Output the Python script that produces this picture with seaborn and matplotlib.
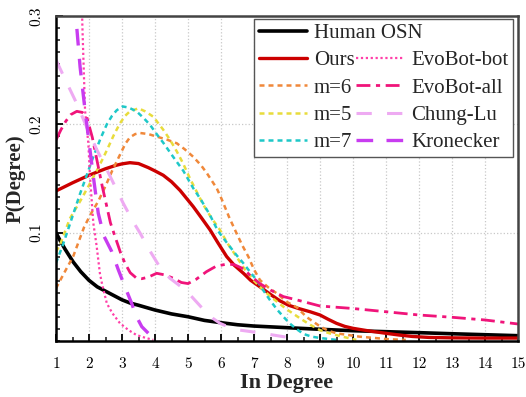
import numpy as np
import pandas as pd
import matplotlib
matplotlib.use("Agg")
import matplotlib.pyplot as plt
from matplotlib.lines import Line2D
from matplotlib.ticker import AutoMinorLocator, MultipleLocator
import seaborn as sns

# ---------------- data ----------------
human_x = [1, 1.12, 1.27, 1.52, 1.75, 2, 2.25, 2.5, 2.75, 3, 3.25, 3.5, 4, 4.5, 5, 5.5, 6, 6.5, 7,
           8, 9, 10, 11, 12, 13, 14, 15]
human_y = [0.100, 0.093, 0.085, 0.073, 0.064, 0.056, 0.050, 0.046, 0.042, 0.038, 0.035, 0.033,
           0.0286, 0.025, 0.0224, 0.019, 0.0169, 0.015, 0.0138, 0.0123, 0.0108, 0.0095, 0.0086,
           0.0077, 0.0067, 0.0058, 0.0049]

ours_x = [1, 1.5, 2, 2.5, 2.8, 3.0, 3.24, 3.5, 3.8, 4.0, 4.25, 4.5, 4.76, 5.0, 5.16, 5.4, 5.67,
          5.9, 6.17, 6.4, 6.68, 6.9, 7.18, 7.5, 7.79, 8.05, 8.35, 8.7, 9.0, 9.25, 9.5, 9.75, 10.0,
          10.5, 11.0, 11.4, 11.8, 12.3, 13, 14, 15]
ours_y = [0.1385, 0.146, 0.153, 0.159, 0.162, 0.1635, 0.1646, 0.1638, 0.160, 0.157, 0.153, 0.147,
          0.139, 0.130, 0.124, 0.114, 0.1025, 0.091, 0.078, 0.070, 0.0625, 0.056, 0.050, 0.043,
          0.037, 0.033, 0.030, 0.027, 0.024, 0.020, 0.0163, 0.0135, 0.0117, 0.0092, 0.0071,
          0.0055, 0.0042, 0.0033, 0.0029, 0.0027, 0.0027]

m6_x = [1, 1.25, 1.52, 1.85, 2.05, 2.28, 2.5, 2.7, 2.94, 3.1, 3.24, 3.4, 3.55, 3.8, 4.05, 4.35,
        4.66, 4.9, 5.16, 5.4, 5.57, 5.87, 6.02, 6.25, 6.47, 6.65, 6.83, 7.0, 7.18, 7.45, 7.69,
        8.0, 8.3, 8.6, 9.0, 9.25, 9.5, 10.2, 11.1, 11.6]
m6_y = [0.0486, 0.063, 0.078, 0.105, 0.117, 0.129, 0.143, 0.157, 0.172, 0.182, 0.188, 0.191,
        0.192, 0.191, 0.1887, 0.186, 0.1825, 0.177, 0.170, 0.162, 0.155, 0.141, 0.131, 0.114,
        0.0995, 0.088, 0.0778, 0.066, 0.0563, 0.049, 0.044, 0.036, 0.031, 0.022, 0.0135, 0.0095,
        0.0071, 0.004, 0.0016, 0.001]

m5_x = [1, 1.12, 1.42, 1.75, 2.03, 2.3, 2.54, 2.75, 2.94, 3.1, 3.24, 3.5, 3.7, 3.95, 4.1, 4.25,
        4.45, 4.66, 4.85, 5.06, 5.26, 5.46, 5.7, 5.97, 6.2, 6.47, 6.7, 6.98, 7.25, 7.5, 7.75, 8.0,
        8.2, 8.39, 8.7, 9.0, 9.3, 9.6, 10.1]
m5_y = [0.0825, 0.0886, 0.113, 0.130, 0.1455, 0.161, 0.176, 0.190, 0.201, 0.208, 0.212, 0.2148,
        0.212, 0.207, 0.201, 0.195, 0.186, 0.175, 0.164, 0.150, 0.138, 0.126, 0.114, 0.1025,
        0.090, 0.0778, 0.067, 0.0563, 0.048, 0.041, 0.035, 0.029, 0.025, 0.021, 0.015, 0.010,
        0.007, 0.0046, 0.001]

m7_x = [1, 1.2, 1.4, 1.73, 2.13, 2.35, 2.54, 2.7, 2.84, 3.02, 3.2, 3.44, 3.65, 3.85, 4.05, 4.25,
        4.55, 4.86, 5.16, 5.4, 5.67, 5.9, 6.17, 6.45, 6.68, 6.9, 7.08, 7.3, 7.48, 7.7, 7.89, 8.09,
        8.29, 8.5, 8.75, 9.0, 9.5]
m7_y = [0.072, 0.088, 0.106, 0.136, 0.170, 0.187, 0.200, 0.208, 0.213, 0.2165, 0.2155, 0.212,
        0.206, 0.1995, 0.191, 0.183, 0.170, 0.157, 0.141, 0.130, 0.116, 0.102, 0.091, 0.080,
        0.0717, 0.063, 0.0563, 0.046, 0.0379, 0.029, 0.0224, 0.016, 0.0110, 0.0065, 0.004,
        0.0028, 0.001]

bot_x = [1.76, 1.8, 1.88, 1.98, 2.03, 2.13, 2.23, 2.33, 2.4, 2.54, 2.7, 2.94, 3.2, 3.44, 3.7, 3.95]
bot_y = [0.34, 0.29, 0.213, 0.1825, 0.152, 0.109, 0.088, 0.0625, 0.052, 0.0348, 0.026, 0.0163,
         0.010, 0.0055, 0.003, 0.001]

all_x = [1, 1.15, 1.3, 1.45, 1.63, 1.8, 1.93, 2.1, 2.28, 2.4, 2.54, 2.65, 2.79, 2.95, 3.09, 3.25,
         3.44, 3.6, 3.8, 4.05, 4.3, 4.55, 4.8, 5.0, 5.25, 5.56, 5.85, 6.17, 6.4, 6.68, 6.9, 7.18,
         7.5, 7.89, 8.29, 9, 10, 11, 12, 13, 14, 15]
all_y = [0.1856, 0.195, 0.203, 0.209, 0.212, 0.211, 0.207, 0.188, 0.161, 0.143, 0.124, 0.109,
         0.0963, 0.082, 0.0717, 0.063, 0.058, 0.0575, 0.059, 0.0625, 0.061, 0.058, 0.054, 0.053,
         0.057, 0.064, 0.069, 0.071, 0.0705, 0.0666, 0.060, 0.053, 0.047, 0.041, 0.038, 0.0323,
         0.030, 0.027, 0.024, 0.0219, 0.0194, 0.0157]

chung_x = [1, 1.3, 1.6, 1.88, 2.23, 2.64, 3.04, 3.34, 3.55, 3.85, 4.15, 4.45, 4.75, 4.96, 5.2,
           5.5, 5.75, 5.97, 6.3, 6.58, 7.18, 7.89, 8.4]
chung_y = [0.2595, 0.240, 0.221, 0.201, 0.177, 0.152, 0.127, 0.110, 0.0995, 0.083, 0.068, 0.058,
           0.051, 0.046, 0.038, 0.028, 0.021, 0.0163, 0.012, 0.0100, 0.0075, 0.004, 0.002]

kron_x = [1.5, 1.6, 1.73, 1.88, 1.98, 2.13, 2.28, 2.45, 2.69, 2.89, 3.09, 3.29, 3.44, 3.6, 3.95]
kron_y = [0.34, 0.30, 0.253, 0.213, 0.1887, 0.152, 0.118, 0.097, 0.0825, 0.0656, 0.050, 0.035,
          0.0224, 0.0132, 0.0025]

names = ["Human OSN", "Ours", "m=6", "m=5", "m=7", "EvoBot-bot", "EvoBot-all", "Chung-Lu", "Kronecker"]
xs = [human_x, ours_x, m6_x, m5_x, m7_x, bot_x, all_x, chung_x, kron_x]
ys = [human_y, ours_y, m6_y, m5_y, m7_y, bot_y, all_y, chung_y, kron_y]

x_ticks = list(range(1, 16))
y_ticks = [0.1, 0.2, 0.3]

# ---------------- styles ----------------
styles = {
    "Human OSN": dict(color="black", lw=2.6, ls="-"),
    "Ours": dict(color="#cc0000", lw=2.4, ls="-"),
    "m=6": dict(color="#f0883a", lw=1.8, ls=(0, (2, 1.6))),
    "m=5": dict(color="#e8dc3c", lw=1.8, ls=(0, (2, 1.6))),
    "m=7": dict(color="#1ec8c8", lw=1.8, ls=(0, (2, 1.6))),
    "EvoBot-bot": dict(color="#ff3fa8", lw=1.6, ls=(0, (1, 1.2))),
    "EvoBot-all": dict(color="#f0147a", lw=2.0, ls=(0, (5, 2, 1.5, 2))),
    "Chung-Lu": dict(color="#eeaaf2", lw=2.2, ls=(0, (5, 5))),
    "Kronecker": dict(color="#c83cf0", lw=2.4, ls=(0, (5, 4))),
}

sns.set_style("white")
plt.rcParams["font.family"] = ["Liberation Serif", "DejaVu Serif"]

fig = plt.figure(figsize=(5.26, 3.97), dpi=100)
ax = fig.add_axes([56 / 526, 1 - 341 / 397, 462 / 526, 325 / 397])

handles = {}
for n, x, y in zip(names, xs, ys):
    df = pd.DataFrame({"x": x, "y": y})
    st = styles[n]
    sns.lineplot(data=df, x="x", y="y", ax=ax, sort=False, color=st["color"],
                 linewidth=st["lw"], linestyle=st["ls"], legend=False)
    handles[n] = Line2D([], [], color=st["color"], lw=st["lw"], ls=st["ls"])

ax.set_xlim(1, 15)
ax.set_ylim(0, 0.3)
ax.set_xticks(x_ticks)
ax.set_xticklabels([str(t) for t in x_ticks], fontfamily="cmr10", fontsize=11)
ax.set_yticks(y_ticks)
ax.set_yticklabels([f"{t:.1f}" for t in y_ticks], fontfamily="cmr10", fontsize=11,
                   rotation=90, va="center")
ax.xaxis.set_minor_locator(MultipleLocator(0.5))
ax.yaxis.set_minor_locator(AutoMinorLocator(9))
ax.tick_params(axis="both", which="major", direction="in", length=5, width=1.3,
               bottom=True, left=True, top=False, right=False, colors="black")
ax.tick_params(axis="both", which="minor", direction="in", length=3, width=1.2,
               bottom=True, left=True, top=False, right=False)
ax.tick_params(axis="x", pad=12)
ax.tick_params(axis="y", pad=9)

ax.grid(True, which="major", color="#c8c8c8", linestyle=":", linewidth=0.9)
for s in ["left", "bottom"]:
    ax.spines[s].set_color("black")
    ax.spines[s].set_linewidth(1.8)
for s in ["top", "right"]:
    ax.spines[s].set_color("#444444")
    ax.spines[s].set_linewidth(1.8)

ax.set_xlabel("In Degree", fontsize=16, fontweight="bold", labelpad=1)
ax.set_ylabel("P(Degree)", fontsize=15, fontweight="bold", labelpad=3)

blank = Line2D([], [], color="none")
leg_h = [handles["Human OSN"], handles["Ours"], handles["m=6"], handles["m=5"], handles["m=7"],
         blank, handles["EvoBot-bot"], handles["EvoBot-all"], handles["Chung-Lu"], handles["Kronecker"]]
leg_l = ["Human OSN", "Ours", "m=6", "m=5", "m=7", "", "EvoBot-bot", "EvoBot-all", "Chung-Lu", "Kronecker"]
leg = ax.legend(leg_h, leg_l, ncol=2, loc="upper right", bbox_to_anchor=(0.989, 0.991),
                fontsize=15, frameon=True, fancybox=False, edgecolor="#555555",
                framealpha=1, handlelength=2.3, handletextpad=0.35, columnspacing=-3.2,
                labelspacing=0.37, borderpad=0.22, borderaxespad=0.0)
leg.get_frame().set_linewidth(1.0)

fig.savefig("out.png", dpi=100)
